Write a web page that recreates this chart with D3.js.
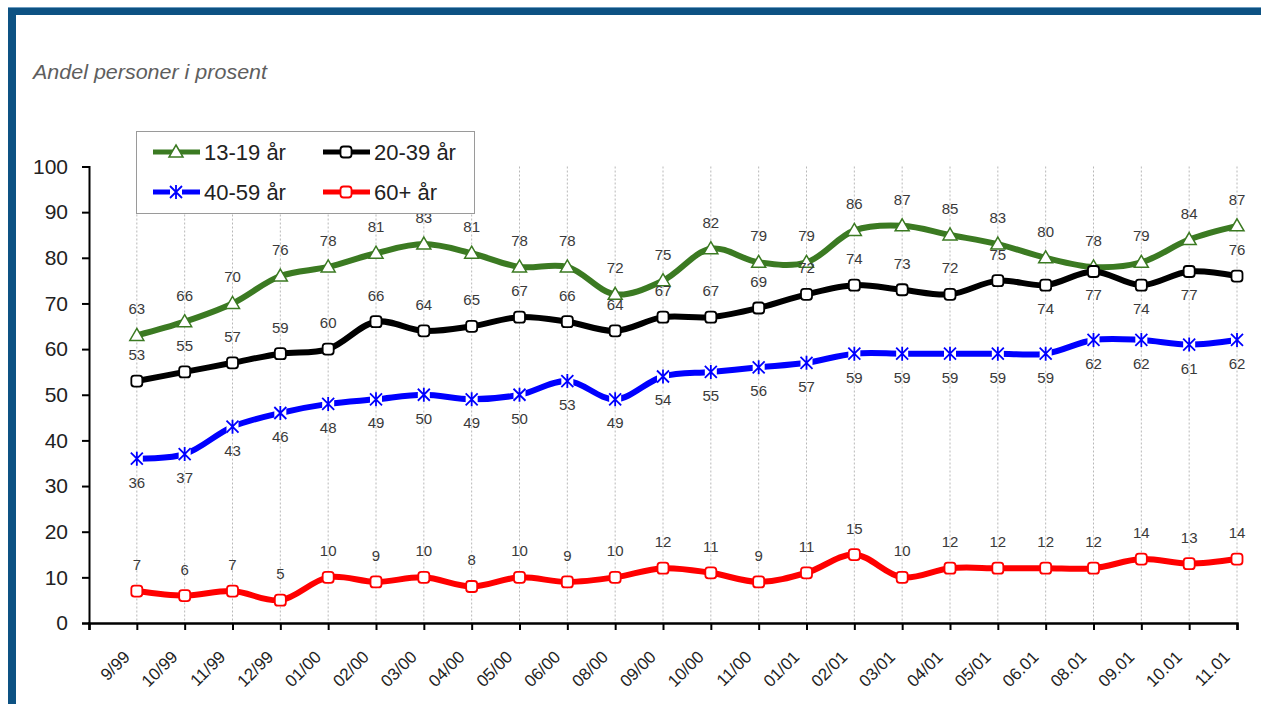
<!DOCTYPE html>
<html>
<head>
<meta charset="utf-8">
<script src="https://cdn.jsdelivr.net/npm/d3@7"></script>
<style>
  body { margin: 0; background: #fff; }
  svg { display: block; font-family: "Liberation Sans", Arial, sans-serif; }
</style>
</head>
<body>
<div id="wrapper"></div>
<script>
const months = ["9/99", "10/99", "11/99", "12/99", "01/00", "02/00", "03/00", "04/00",
  "05/00", "06/00", "08/00", "09/00", "10/00", "11/00", "01/01", "02/01", "03/01",
  "04/01", "05/01", "06.01", "08.01", "09.01", "10.01", "11.01"];
const teens = [63, 66, 70, 76, 78, 81, 83, 81, 78, 78, 72, 75, 82, 79, 79, 86, 87, 85, 83, 80, 78, 79, 84, 87];
const adults = [53, 55, 57, 59, 60, 66, 64, 65, 67, 66, 64, 67, 67, 69, 72, 74, 73, 72, 75, 74, 77, 74, 77, 76];
const middle = [36, 37, 43, 46, 48, 49, 50, 49, 50, 53, 49, 54, 55, 56, 57, 59, 59, 59, 59, 59, 62, 62, 61, 62];
const seniors = [7, 6, 7, 5, 10, 9, 10, 8, 10, 9, 10, 12, 11, 9, 11, 15, 10, 12, 12, 12, 12, 14, 13, 14];
// black labels that sit under the point instead of above
const adultsBelow = ["06.01", "08.01", "09.01", "10.01"];
const yTicks = [0, 10, 20, 30, 40, 50, 60, 70, 80, 90, 100];

const series = [
  { name: "13-19 år", values: teens, color: "#3b7a22", marker: "triangle", labelPos: () => "above" },
  { name: "20-39 år", values: adults, color: "#000000", marker: "square", labelPos: m => adultsBelow.includes(m) ? "below" : "above" },
  { name: "40-59 år", values: middle, color: "#0000ff", marker: "star", labelPos: () => "below" },
  { name: "60+ år", values: seniors, color: "#ff0000", marker: "square", labelPos: () => "above" }
];

const width = 1261, height = 704;
const svg = d3.select("#wrapper").append("svg")
  .attr("width", width)
  .attr("height", height);

// blue frame
svg.append("rect").attr("x", 8).attr("y", 7).attr("width", width).attr("height", 8).attr("fill", "#0d5283");
svg.append("rect").attr("x", 8).attr("y", 7).attr("width", 8).attr("height", height).attr("fill", "#0d5283");
svg.append("line").attr("x1", 8).attr("x2", width).attr("y1", 7.5).attr("y2", 7.5)
  .attr("stroke", "#6d9cc0").attr("stroke-width", 1);

svg.append("text")
  .attr("x", 33).attr("y", 79)
  .style("font-style", "italic")
  .style("font-size", "21px")
  .attr("textLength", 234)
  .attr("lengthAdjust", "spacingAndGlyphs")
  .attr("fill", "#5e5e5e")
  .text("Andel personer i prosent");

const xScale = d3.scaleLinear().domain([0, months.length]).range([89, 1237]);
const yScale = d3.scaleLinear().domain([0, 100]).range([623, 166.5]);
const xOf = i => xScale(i + 1);

// vertical dotted gridlines
svg.append("g").selectAll("line")
  .data(months)
  .join("line")
  .attr("x1", (d, i) => xOf(i)).attr("x2", (d, i) => xOf(i))
  .attr("y1", yScale(100)).attr("y2", yScale(0))
  .attr("stroke", "#b8b8b8")
  .attr("stroke-dasharray", "2,2");

// y axis
const yAxis = svg.append("g")
  .attr("transform", `translate(${xScale(0)},0)`)
  .call(d3.axisLeft(yScale).tickValues(yTicks).tickSize(7).tickPadding(14));
yAxis.select(".domain").attr("stroke", "#000").attr("stroke-width", 2);
yAxis.selectAll(".tick line").attr("stroke", "#000").attr("stroke-width", 2);
yAxis.selectAll(".tick text")
  .style("font-size", "21px")
  .attr("fill", "#222");

// x axis
const xAxis = svg.append("g")
  .attr("transform", `translate(0,${yScale(0)})`)
  .call(d3.axisBottom(xScale).tickValues(d3.range(0, months.length + 1)).tickSize(7).tickFormat(""));
xAxis.select(".domain").attr("stroke", "#000").attr("stroke-width", 2.5);
xAxis.selectAll(".tick line").attr("stroke", "#000").attr("stroke-width", 2);

svg.append("g").selectAll("text")
  .data(months)
  .join("text")
  .attr("transform", (d, i) => `translate(${xOf(i) - 6},${yScale(0) + 35}) rotate(-45)`)
  .attr("text-anchor", "end")
  .style("font-size", "17px")
  .attr("fill", "#222")
  .text(d => d);

function drawMarker(g, type, color, x, y) {
  if (type === "triangle") {
    g.append("path")
      .attr("d", `M${x},${y - 7}L${x + 7},${y + 5}L${x - 7},${y + 5}Z`)
      .attr("fill", "#fff").attr("stroke", color).attr("stroke-width", 1.5);
  } else if (type === "square") {
    g.append("rect")
      .attr("x", x - 5.5).attr("y", y - 5.5).attr("width", 11).attr("height", 11).attr("rx", 3)
      .attr("fill", "#fff").attr("stroke", color).attr("stroke-width", 1.8);
  } else {
    g.append("rect")
      .attr("x", x - 6).attr("y", y - 6).attr("width", 12).attr("height", 12)
      .attr("fill", "#fff");
    g.append("path")
      .attr("d", `M${x - 6},${y - 6}L${x + 6},${y + 6}M${x + 6},${y - 6}L${x - 6},${y + 6}M${x},${y - 7}L${x},${y + 7}`)
      .attr("stroke", color).attr("stroke-width", 1.8).attr("fill", "none");
  }
}

const line = d3.line()
  .x((d, i) => xOf(i))
  .y(d => yScale(d))
  .curve(d3.curveCatmullRom.alpha(0.5));

series.forEach(s => {
  const g = svg.append("g");
  g.append("path")
    .datum(s.values)
    .attr("d", line)
    .attr("fill", "none")
    .attr("stroke", s.color)
    .attr("stroke-width", 6)
    .attr("stroke-linejoin", "round");
  s.values.forEach((v, i) => drawMarker(g, s.marker, s.color, xOf(i), yScale(v)));
});

// data labels
series.forEach(s => {
  svg.append("g").selectAll("text")
    .data(s.values)
    .join("text")
    .attr("x", (d, i) => xOf(i))
    .attr("y", (d, i) => yScale(d) + (s.labelPos(months[i]) === "above" ? -21 : 29))
    .attr("text-anchor", "middle")
    .style("font-size", "15px")
    .attr("fill", "#3a3a3a")
    .text(d => d);
});

// legend
const legend = svg.append("g");
legend.append("rect")
  .attr("x", 136.5).attr("y", 131.5).attr("width", 338).attr("height", 82)
  .attr("fill", "#fff").attr("stroke", "#9a9a9a");
series.forEach((s, i) => {
  const cx = i % 2 === 0 ? 176 : 346;
  const cy = i < 2 ? 152 : 192;
  const item = legend.append("g");
  item.append("line")
    .attr("x1", cx - 23).attr("x2", cx + 24).attr("y1", cy).attr("y2", cy)
    .attr("stroke", s.color).attr("stroke-width", 5);
  drawMarker(item, s.marker, s.color, cx, cy);
  item.append("text")
    .attr("x", cx + 28).attr("y", cy + 8)
    .style("font-size", "22px")
    .attr("fill", "#222")
    .text(s.name);
});
</script>
</body>
</html>
